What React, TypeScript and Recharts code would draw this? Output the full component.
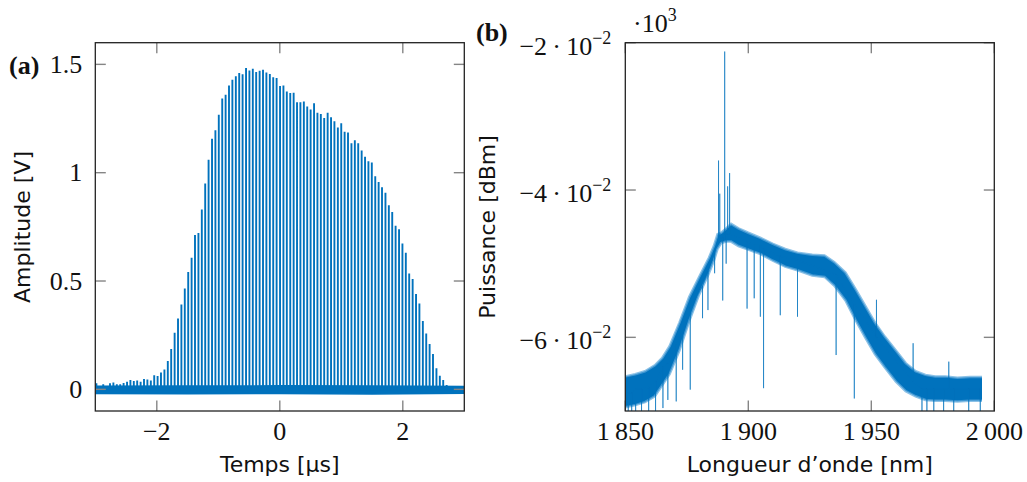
import { ComposedChart, Line, Area, XAxis, YAxis } from 'recharts';

// (a) pulse train: spike times [µs] and peak amplitudes [V]
const pulseTimes = [
  -2.982, -2.927, -2.871, -2.816, -2.761, -2.706, -2.65, -2.595, -2.54, -2.484,
  -2.429, -2.374, -2.319, -2.263, -2.208, -2.153, -2.097, -2.042, -1.987, -1.932,
  -1.876, -1.821, -1.766, -1.71, -1.655, -1.6, -1.545, -1.489, -1.434, -1.379,
  -1.323, -1.268, -1.213, -1.158, -1.102, -1.047, -0.992, -0.936, -0.881, -0.826,
  -0.771, -0.715, -0.66, -0.605, -0.549, -0.494, -0.439, -0.384, -0.328, -0.273,
  -0.218, -0.162, -0.107, -0.052, 0.004, 0.059, 0.114, 0.17, 0.225, 0.28,
  0.335, 0.391, 0.446, 0.501, 0.557, 0.612, 0.667, 0.722, 0.778, 0.833,
  0.888, 0.944, 0.999, 1.054, 1.109, 1.165, 1.22, 1.275, 1.331, 1.386,
  1.441, 1.496, 1.552, 1.607, 1.662, 1.718, 1.773, 1.828, 1.883, 1.939,
  1.994, 2.049, 2.104, 2.16, 2.215, 2.27, 2.326, 2.381, 2.436, 2.491,
  2.547, 2.602, 2.657, 2.713, 2.768, 2.823,
];
const pulsePeaks = [
  0.028, 0.015, 0.023, 0.012, 0.028, 0.032, 0.023, 0.023, 0.029, 0.035,
  0.043, 0.038, 0.041, 0.035, 0.048, 0.045, 0.041, 0.065, 0.061, 0.078,
  0.092, 0.131, 0.186, 0.261, 0.327, 0.392, 0.466, 0.542, 0.607, 0.712,
  0.722, 0.83, 0.95, 1.06, 1.157, 1.196, 1.268, 1.342, 1.36, 1.403,
  1.429, 1.445, 1.46, 1.454, 1.483, 1.472, 1.48, 1.465, 1.471, 1.475,
  1.462, 1.455, 1.44, 1.437, 1.4, 1.403, 1.375, 1.368, 1.369, 1.325,
  1.325, 1.329, 1.306, 1.292, 1.32, 1.277, 1.271, 1.252, 1.277, 1.256,
  1.237, 1.209, 1.228, 1.189, 1.185, 1.136, 1.15, 1.136, 1.102, 1.073,
  1.053, 1.047, 0.984, 0.957, 0.933, 0.907, 0.85, 0.819, 0.755, 0.739,
  0.673, 0.63, 0.535, 0.509, 0.44, 0.396, 0.315, 0.258, 0.209, 0.163,
  0.097, 0.063, 0.043, 0.02, 0.015, 0.012,
];
// noise floor of the oscilloscope trace
const floorTimes = [-3, -1.5, 0, 1.5, 3];
const floorLow = [-0.019, -0.02, -0.019, -0.021, -0.018];
const floorHigh = [0.014, 0.015, 0.016, 0.015, 0.013];

const timeTicks = [-2, 0, 2];
const ampTicks = [0, 0.5, 1, 1.5];

// (b) spectrum: noise band edges [dBm]
const bandWl = [
  1850, 1854, 1858, 1862, 1865, 1868, 1872, 1876, 1880, 1884, 1886, 1887.5, 1889, 1891,
  1893, 1896, 1900, 1905, 1910, 1915, 1920, 1926, 1931, 1935, 1939.5, 1943.5, 1947.5,
  1951.5, 1955.5, 1960, 1964, 1968, 1972, 1976, 1980, 1985, 1990, 1995,
];
const bandHigh = [
  -65.3, -65.0, -64.6, -63.8, -62.8, -61.2, -58.0, -54.5, -51.8, -49.2, -47.6, -46.0, -45.8, -45.2,
  -44.6, -45.2, -45.8, -46.5, -47.3, -48.0, -48.5, -48.8, -48.9, -49.8, -51.2, -53.4, -55.7,
  -58.0, -59.9, -61.8, -63.5, -64.6, -65.1, -65.3, -65.3, -65.5, -65.4, -65.4,
];
const bandLow = [
  -69.5, -69.2, -68.8, -68.0, -66.5, -65.0, -61.8, -57.8, -54.2, -51.3, -49.6, -48.0, -47.2, -47.0,
  -47.0, -47.6, -48.1, -48.7, -49.6, -50.4, -50.9, -51.6, -51.8, -53.0, -55.0, -57.6, -60.0,
  -62.3, -64.1, -66.0, -67.3, -68.0, -68.5, -68.6, -68.6, -68.7, -68.6, -68.6,
];
// isolated spikes of the spectrum
const spikeWl = [
  1851.2, 1852.6, 1854.2, 1856.6, 1859.5, 1862.3, 1865.3, 1867.3, 1870.7, 1873.3,
  1876.4, 1881.4, 1883.6, 1886.3, 1887.9, 1888.4, 1889.6, 1890.4, 1891.0, 1891.6,
  1892.4, 1899.5, 1902.4, 1904.9, 1906.2, 1913.0, 1920.0, 1935.7, 1943.1, 1952.1,
  1967.0, 1970.6, 1972.6, 1975.4, 1979.4, 1981.5, 1983.5, 1989.6, 1994.3,
];
const spikeBase = [
  -67.5, -67.5, -67, -67, -66.8, -66, -64, -63.5, -61, -59.5,
  -56, -53, -51, -48.5, -46.5, -46.5, -46.5, -46, -46, -46,
  -46, -47, -47.5, -47.5, -48, -49, -49.5, -51.5, -55.5, -60,
  -66, -67, -67, -67, -67, -67, -67, -67, -67,
];
const spikeTip = [
  -71, -71, -71, -71, -71, -71, -69.6, -68.5, -68.7, -64.4,
  -67.1, -57.4, -56.3, -51.3, -36, -40.5, -55, -21.2, -50, -39.5,
  -37.7, -56.1, -54.7, -57.2, -66.9, -57, -57.2, -62.4, -68.3, -54.9,
  -60.8, -71, -71, -71, -71, -63.3, -71, -71, -71,
];

const wlTicks = [1850, 1900, 1950, 2000];
const powerTicks = [-60, -40, -20];

const BLUE = '#0072bd';
const TICK = 10.5;
const TICK_COLOR = '#858585';
const SERIF = '"Liberation Serif", "Times New Roman", serif';
const SANS = '"DejaVu Sans", sans-serif';

const TOP = 42.7;
const BOTTOM = 411;
const A_LEFT = 95.3;
const A_RIGHT = 464.3;
const B_OFF = 480;
const B_LEFT = 625.3;
const B_RIGHT = 994.3;

const pulseData = pulseTimes.flatMap((t, i) => [
  { t, v: 0 },
  { t, v: pulsePeaks[i] },
  { t, v: 0 },
]);
const floorData = floorTimes.map((t, i) => ({ t, band: [floorLow[i], floorHigh[i]] }));
const bandData = bandWl.map((wl, i) => ({ wl, band: [bandLow[i], bandHigh[i]] }));
const spikeData = spikeWl.flatMap((wl, i) => [
  { wl, p: spikeBase[i] },
  { wl, p: spikeTip[i] },
  { wl, p: spikeBase[i] },
]);

const num = (v: number) => (v < 0 ? '\u2212' + String(-v) : String(v));

function TimeTick({ x, y, payload }: any) {
  return (
    <g>
      <line x1={x} x2={x} y1={y} y2={y - TICK} stroke={TICK_COLOR} strokeWidth={1.4} />
      <line x1={x} x2={x} y1={TOP} y2={TOP + TICK} stroke={TICK_COLOR} strokeWidth={1.4} />
      <text x={x} y={y + 29} textAnchor="middle" fontFamily={SERIF} fontSize={26} fill="#111">
        {num(payload.value)}
      </text>
    </g>
  );
}

function AmpTick({ x, y, payload }: any) {
  return (
    <g>
      <line x1={x} x2={x + TICK} y1={y} y2={y} stroke={TICK_COLOR} strokeWidth={1.4} />
      <line x1={A_RIGHT} x2={A_RIGHT - TICK} y1={y} y2={y} stroke={TICK_COLOR} strokeWidth={1.4} />
      <text x={x - 13} y={y + 8.5} textAnchor="end" fontFamily={SERIF} fontSize={26} fill="#111">
        {num(payload.value)}
      </text>
    </g>
  );
}

function WlTick({ x, y, payload }: any) {
  const s = String(payload.value);
  return (
    <g>
      <line x1={x} x2={x} y1={y} y2={y - TICK} stroke={TICK_COLOR} strokeWidth={1.4} />
      <line x1={x} x2={x} y1={TOP} y2={TOP + TICK} stroke={TICK_COLOR} strokeWidth={1.4} />
      <text x={x} y={y + 29} textAnchor="middle" fontFamily={SERIF} fontSize={26} fill="#111">
        {s.slice(0, 1) + '\u2009' + s.slice(1)}
      </text>
    </g>
  );
}

function PowerTick({ x, y, payload }: any) {
  const right = B_RIGHT - B_OFF;
  return (
    <g>
      <line x1={x} x2={x + TICK} y1={y} y2={y} stroke={TICK_COLOR} strokeWidth={1.4} />
      <line x1={right} x2={right - TICK} y1={y} y2={y} stroke={TICK_COLOR} strokeWidth={1.4} />
      <text x={x - 14} y={y + 12} textAnchor="end" fontFamily={SERIF} fontSize={26} fill="#111">
        {num(payload.value / 10) + '\u2009·\u200910'}
        <tspan fontSize={18} dy={-11}>
          {'\u22122'}
        </tspan>
      </text>
    </g>
  );
}

function PulsePanel() {
  return (
    <ComposedChart
      width={480}
      height={482}
      margin={{ top: TOP, right: 480 - A_RIGHT, bottom: 482 - BOTTOM - 1, left: A_LEFT - 1 }}
    >
      <Area
        data={floorData}
        dataKey="band"
        type="linear"
        fill={BLUE}
        fillOpacity={1}
        stroke={BLUE}
        strokeWidth={1.5}
        isAnimationActive={false}
        dot={false}
        activeDot={false}
      />
      <Line
        data={pulseData}
        dataKey="v"
        type="linear"
        stroke={BLUE}
        strokeWidth={1.9}
        strokeLinejoin="bevel"
        dot={false}
        activeDot={false}
        isAnimationActive={false}
      />
      <XAxis
        dataKey="t"
        type="number"
        domain={[-3, 3]}
        ticks={timeTicks}
        interval={0}
        height={1}
        tickSize={0}
        tickMargin={0}
        tickLine={false}
        axisLine={false}
        tick={<TimeTick />}
        allowDataOverflow
      />
      <YAxis
        type="number"
        domain={[-0.1, 1.6]}
        ticks={ampTicks}
        interval={0}
        width={1}
        tickSize={0}
        tickMargin={0}
        tickLine={false}
        axisLine={false}
        tick={<AmpTick />}
        allowDataOverflow
      />
    </ComposedChart>
  );
}

function SpectrumPanel() {
  return (
    <ComposedChart
      width={547}
      height={482}
      margin={{ top: TOP, right: 1027 - B_RIGHT, bottom: 482 - BOTTOM - 1, left: B_LEFT - B_OFF - 1 }}
    >
      <Area
        data={bandData}
        dataKey="band"
        type="linear"
        fill={BLUE}
        fillOpacity={1}
        stroke="#5aa6dc"
        strokeWidth={2.5}
        strokeOpacity={0.7}
        isAnimationActive={false}
        dot={false}
        activeDot={false}
      />
      <Line
        data={spikeData}
        dataKey="p"
        type="linear"
        stroke={BLUE}
        strokeWidth={0.9}
        strokeOpacity={0.7}
        strokeLinejoin="bevel"
        dot={false}
        activeDot={false}
        isAnimationActive={false}
      />
      <XAxis
        dataKey="wl"
        type="number"
        domain={[1850, 2000]}
        ticks={wlTicks}
        interval={0}
        height={1}
        tickSize={0}
        tickMargin={0}
        tickLine={false}
        axisLine={false}
        tick={<WlTick />}
        allowDataOverflow
      />
      <YAxis
        type="number"
        domain={[-70, -20]}
        ticks={powerTicks}
        interval={0}
        width={1}
        tickSize={0}
        tickMargin={0}
        tickLine={false}
        axisLine={false}
        tick={<PowerTick />}
        allowDataOverflow
      />
    </ComposedChart>
  );
}

export default function App() {
  return (
    <div style={{ position: 'absolute', left: 0, top: 0, width: 1027, height: 482, background: '#fff' }}>
      <div style={{ position: 'absolute', left: 0, top: 0 }}>
        <PulsePanel />
      </div>
      <div style={{ position: 'absolute', left: B_OFF, top: 0 }}>
        <SpectrumPanel />
      </div>
      <svg
        width={1027}
        height={482}
        style={{ position: 'absolute', left: 0, top: 0, pointerEvents: 'none' }}
      >
        <rect x={A_LEFT} y={TOP} width={A_RIGHT - A_LEFT} height={BOTTOM - TOP} fill="none" stroke="#222" strokeWidth={1.3} />
        <rect x={B_LEFT} y={TOP} width={B_RIGHT - B_LEFT} height={BOTTOM - TOP} fill="none" stroke="#222" strokeWidth={1.3} />
        <text x={9} y={74} fontFamily={SERIF} fontWeight="bold" fontSize={26} fill="#111">
          (a)
        </text>
        <text x={476} y={41} fontFamily={SERIF} fontWeight="bold" fontSize={26} fill="#111">
          (b)
        </text>
        <text x={633} y={32} fontFamily={SERIF} fontSize={26} fill="#111">
          {'·10'}
          <tspan fontSize={18} dy={-11}>
            3
          </tspan>
        </text>
        <text x={(A_LEFT + A_RIGHT) / 2} y={472} textAnchor="middle" fontFamily={SANS} fontSize={22} fill="#111">
          Temps [µs]
        </text>
        <text x={(B_LEFT + B_RIGHT) / 2} y={472} textAnchor="middle" fontFamily={SANS} fontSize={22} fill="#111">
          Longueur d’onde [nm]
        </text>
        <text
          transform="translate(30,227) rotate(-90)"
          textAnchor="middle"
          fontFamily={SANS}
          fontSize={22}
          fill="#111"
        >
          Amplitude [V]
        </text>
        <text
          transform="translate(495,227) rotate(-90)"
          textAnchor="middle"
          fontFamily={SANS}
          fontSize={22}
          fill="#111"
        >
          Puissance [dBm]
        </text>
      </svg>
    </div>
  );
}
